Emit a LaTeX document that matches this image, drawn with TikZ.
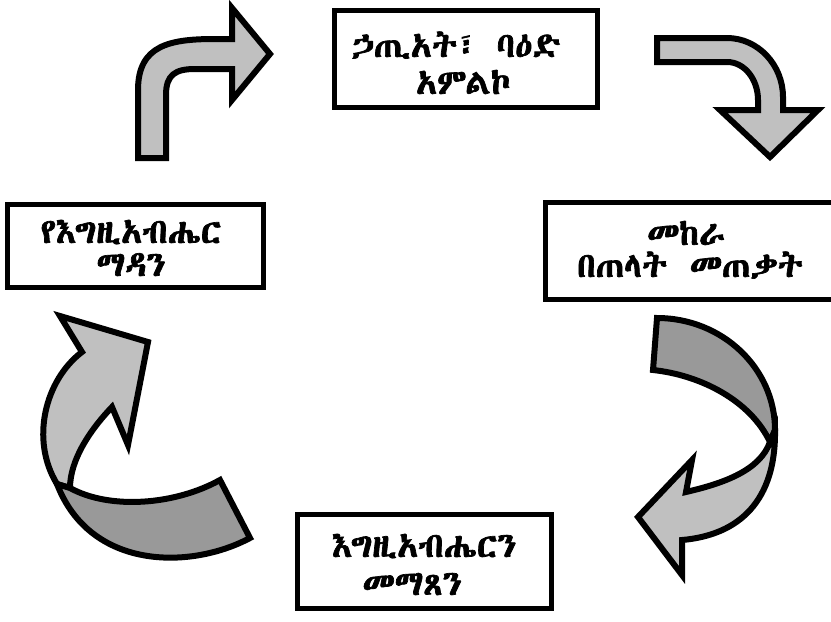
\documentclass[tikz,border=0pt]{standalone}
\usepackage{fontspec}
\IfFontExistsTF{Abyssinica SIL}{\newfontfamily\ethfont[FakeBold=2]{Abyssinica SIL}}{%
 \IfFontExistsTF{FreeSerif}{\newfontfamily\ethfont[FakeBold=2]{FreeSerif}}{%
  \IfFontExistsTF{Noto Sans Ethiopic}{\newfontfamily\ethfont{Noto Sans Ethiopic}[BoldFont={* Bold}]}{%
   \IfFontExistsTF{Noto Serif Ethiopic}{\newfontfamily\ethfont{Noto Serif Ethiopic}}{%
    \newfontfamily\ethfont{DejaVu Sans}}}}}
\definecolor{lightg}{HTML}{C0C0C0}
\definecolor{darkg}{HTML}{999999}
\begin{document}
\begin{tikzpicture}[x=0.75pt,y=-0.75pt,
  boxline/.style={draw=black,line width=3.75pt,rectangle,inner sep=0pt},
  arrowline/.style={draw=black,line width=4.5pt,line join=miter},
  lbl/.style={font=\ethfont\bfseries\fontsize{26}{31}\selectfont,anchor=base,inner sep=0pt,text depth=1pt},
]
\useasboundingbox (0,0) rectangle (831,621);
\fill[white] (0,0) rectangle (831,621);

% boxes
\node[boxline,minimum width=197.25pt,minimum height=72.75pt] (topbox) at (466,59) {};
\node[boxline,minimum width=220.9pt,minimum height=72.75pt] (rightbox) at (692.75,251) {};
\node[boxline,minimum width=192pt,minimum height=62.25pt] (leftbox) at (135.5,246) {};
\node[boxline,minimum width=190.5pt,minimum height=70.5pt] (botbox) at (424.5,561.5) {};

% texts
\node[lbl] (ta) at (456,57) {ኃጢአት፣\hspace{0.55em}ባዕድ};
\node[lbl] (tb) at (463,94) {አምልኮ};
\node[lbl] (ra) at (686,245) {መከራ};
\node[lbl] (rb) at (690,277) {በጠላት\hspace{0.2em} መጠቃት};
\node[lbl] (la) at (131,243) {የእግዚአብሔር};
\node[lbl] (lb) at (131,276) {ማዳን};
\node[lbl] (ba) at (424,557) {እግዚአብሔርን};
\node[lbl] (bb) at (412,595) {መማጸን};

% arrow 1: top-left bent arrow (up then right)
\filldraw[arrowline,fill=lightg] (138,158) -- (138,90) .. controls (138,45) and (170,39) .. (215,39)
  -- (232,39) -- (232,8) -- (270,54) -- (232,100) -- (232,69) -- (195,69)
  .. controls (175,69) and (166,75) .. (166,95) -- (166,158) -- cycle;

% arrow 2: top-right bent arrow (right then down)
\filldraw[arrowline,fill=lightg] (657,38) -- (727,38) .. controls (758,38) and (783,65) .. (783,97)
  -- (783,110) -- (818,110) -- (770,157) -- (720,110) -- (758,110) -- (758,100)
  .. controls (758,80) and (745,62) .. (727,62) -- (657,62) -- cycle;

% arrow 3: right twisted arrow
\filldraw[arrowline,fill=darkg] (657,318) .. controls (722,318) and (775,368) .. (775,430)
  -- (770,442) .. controls (750,400) and (700,375) .. (653,370) -- cycle;
\filldraw[arrowline,fill=lightg] (775,430) .. controls (776,500) and (740,535) .. (682,540)
  -- (682,575) -- (638,517) -- (692,460) -- (686,492)
  .. controls (725,483) and (760,470) .. (770,442) -- cycle;

% arrow 4: left twisted arrow
\filldraw[arrowline,fill=lightg] (60,316) -- (148,342) -- (128,445) -- (112,407)
  .. controls (90,430) and (70,460) .. (70,488) -- (57,484)
  .. controls (30,440) and (45,380) .. (82,352) -- cycle;
\filldraw[arrowline,fill=darkg] (57,484) -- (70,488) .. controls (110,510) and (175,505) .. (220,480)
  -- (250,538) .. controls (190,570) and (90,570) .. (57,484) -- cycle;
\end{tikzpicture}
\end{document}
